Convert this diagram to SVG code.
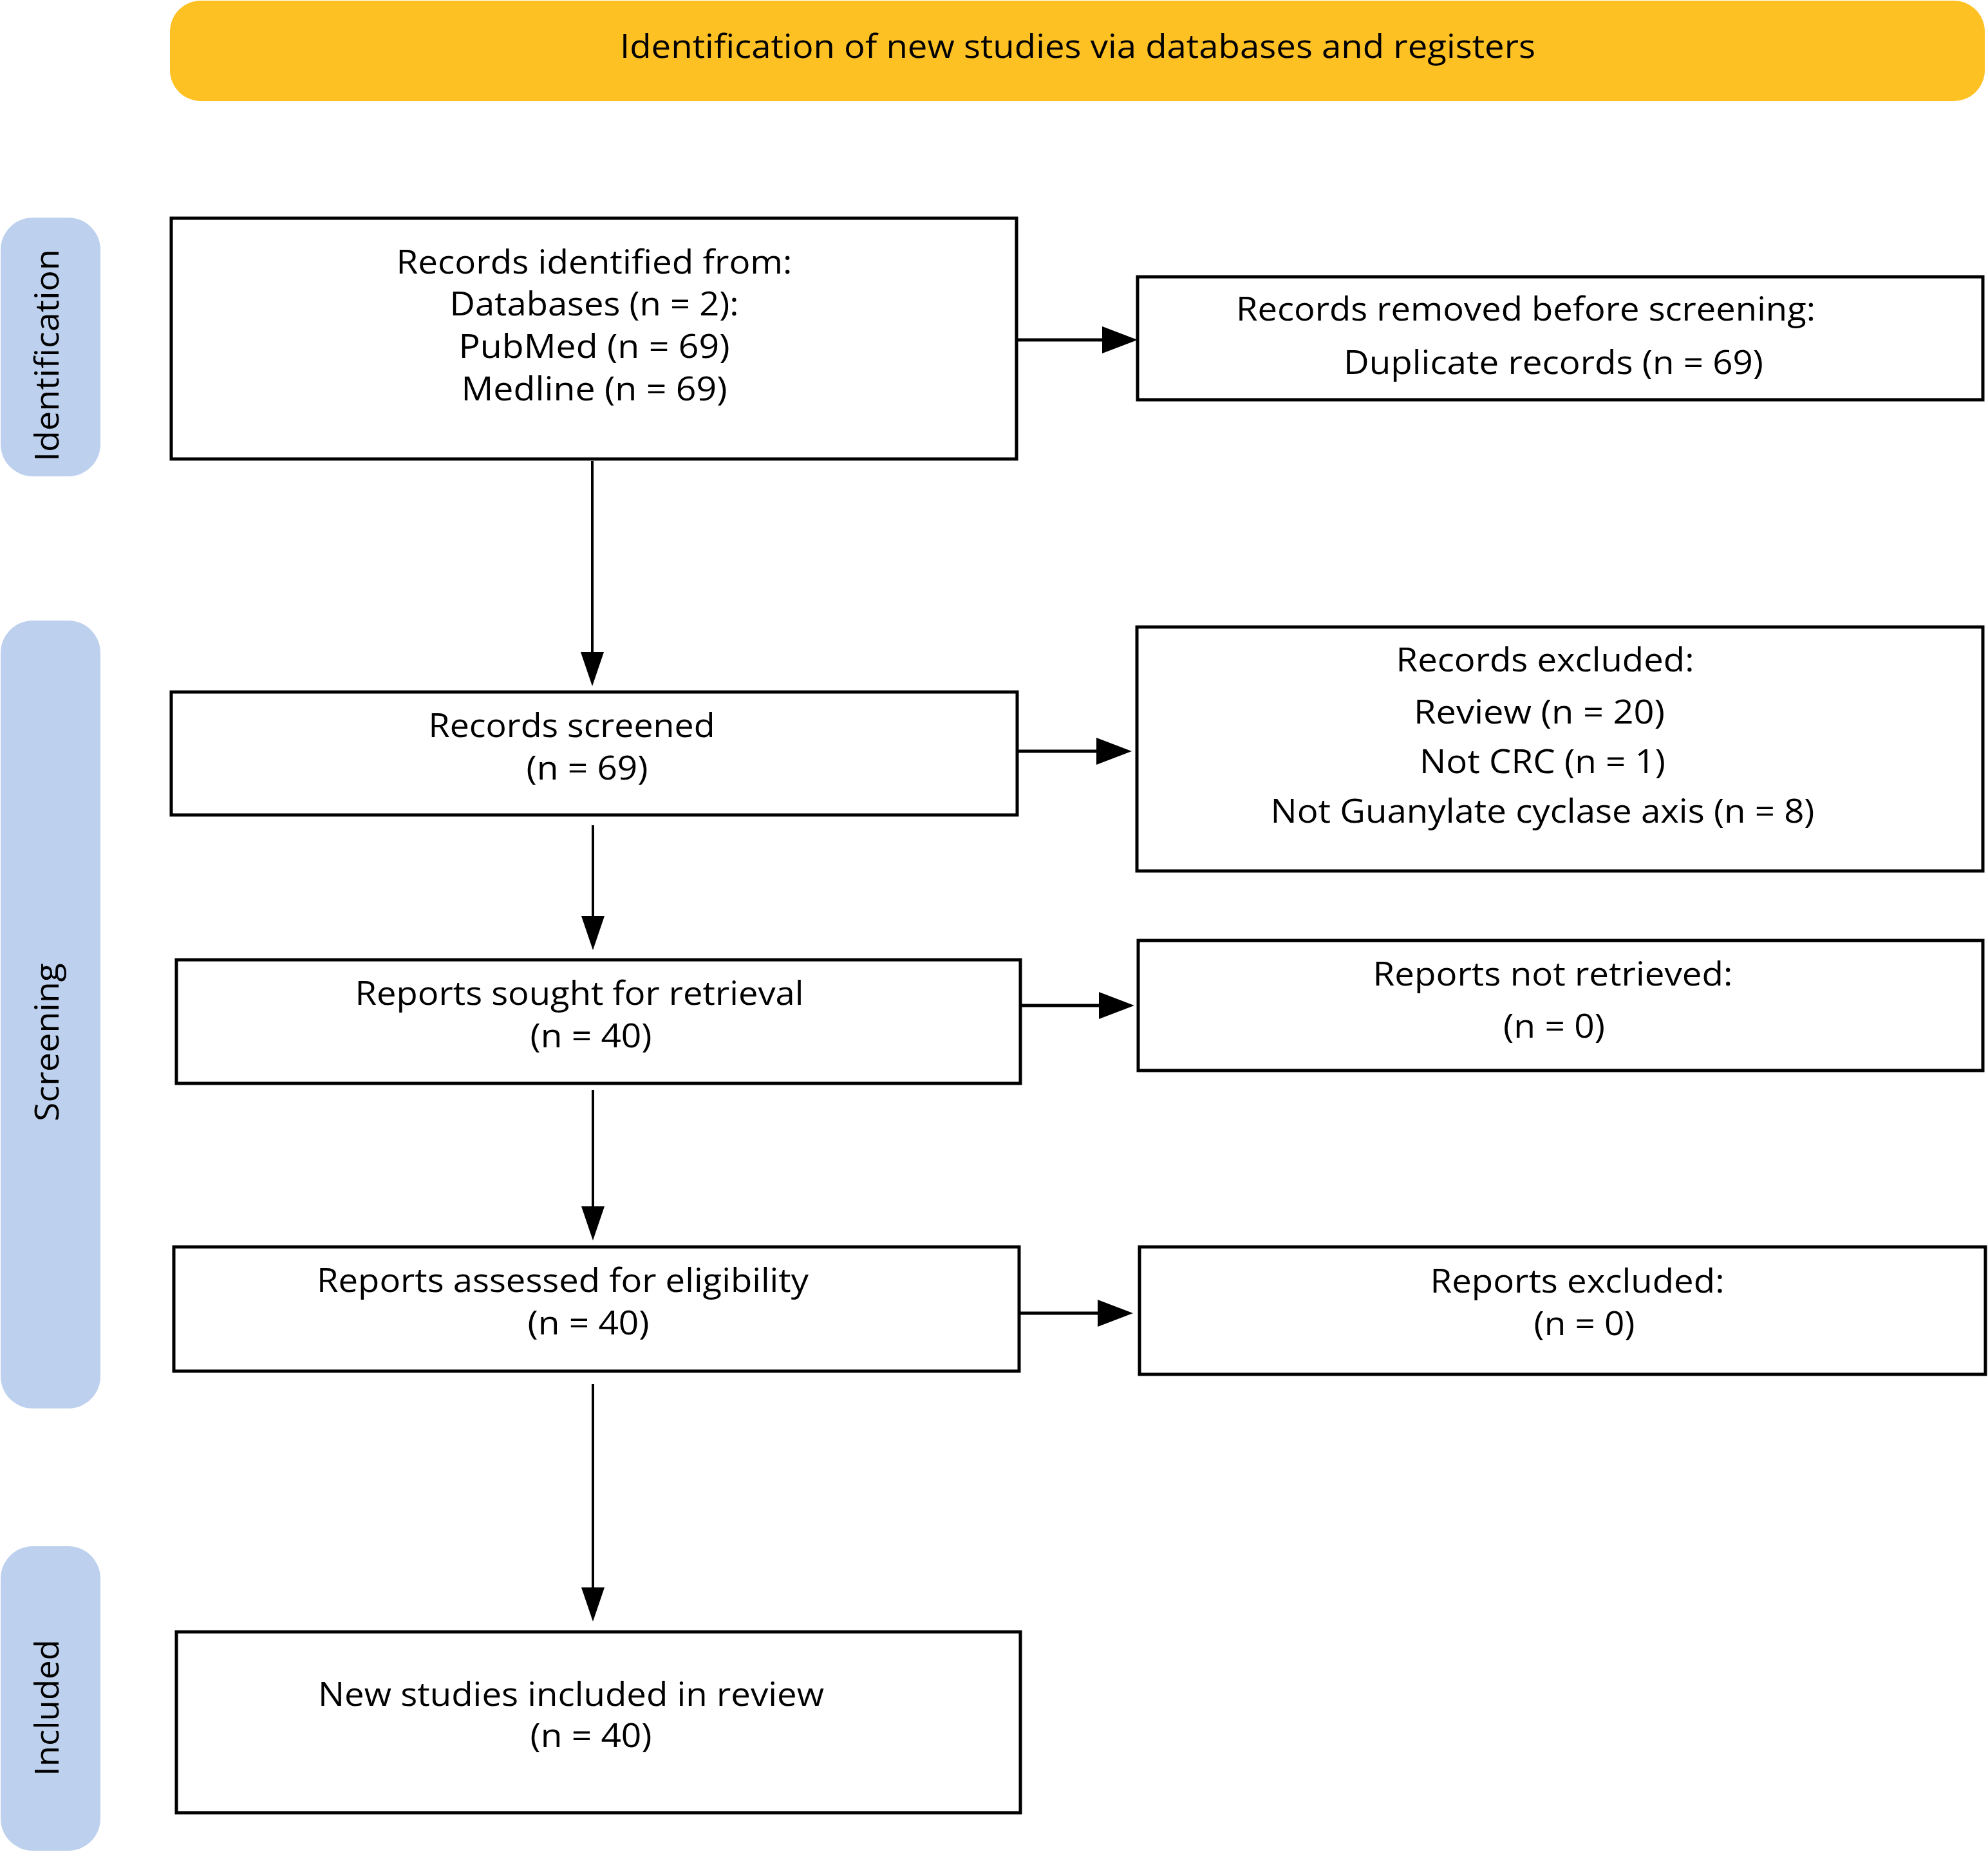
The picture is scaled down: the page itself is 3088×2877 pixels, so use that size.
<svg xmlns="http://www.w3.org/2000/svg" width="3088" height="2877" viewBox="0 0 3088 2877">
<style>
text{font-family:"Open Sans","Liberation Sans",sans-serif;font-size:52px;fill:#000;text-anchor:middle}
.box{fill:#fff;stroke:#000;stroke-width:5}
.phase{fill:#BDD1EE}
.banner{fill:#FEC124}
.h{stroke:#000;stroke-width:5;fill:none}
.v{stroke:#000;stroke-width:4;fill:none}
</style>
<defs>
<marker id="ah" markerUnits="userSpaceOnUse" markerWidth="55" markerHeight="42" viewBox="0 0 55 42" refX="0" refY="21" orient="auto"><path d="M0,0 L55,21 L0,42 Z" fill="#000"/></marker>
<marker id="av" markerUnits="userSpaceOnUse" markerWidth="53" markerHeight="36" viewBox="0 0 53 36" refX="0" refY="18" orient="auto"><path d="M0,0 L53,18 L0,36 Z" fill="#000"/></marker>
</defs>
<rect width="3088" height="2877" fill="#fff"/>
<g id="banner">
<rect class="banner" x="264" y="1" width="2819" height="156" rx="48"/>
<text x="1674" y="90" textLength="1422" lengthAdjust="spacingAndGlyphs">Identification of new studies via databases and registers</text>
</g>
<g id="phase-identification">
<rect class="phase" x="1" y="338" width="155" height="402" rx="50"/>
<text transform="translate(91,552) rotate(-90)" textLength="330" lengthAdjust="spacingAndGlyphs">Identification</text>
</g>
<g id="phase-screening">
<rect class="phase" x="1" y="964" width="155" height="1224" rx="50"/>
<text transform="translate(91,1619) rotate(-90)" textLength="246" lengthAdjust="spacingAndGlyphs">Screening</text>
</g>
<g id="phase-included">
<rect class="phase" x="1" y="2402" width="155" height="473" rx="50"/>
<text transform="translate(91,2653) rotate(-90)" textLength="212" lengthAdjust="spacingAndGlyphs">Included</text>
</g>
<g id="records-identified">
<rect class="box" x="266" y="339" width="1313" height="374"/>
<text x="923" y="425" textLength="615" lengthAdjust="spacingAndGlyphs">Records identified from:</text>
<text x="923" y="490" textLength="449" lengthAdjust="spacingAndGlyphs">Databases (n = 2):</text>
<text x="923" y="556" textLength="421" lengthAdjust="spacingAndGlyphs">PubMed (n = 69)</text>
<text x="923" y="622" textLength="413" lengthAdjust="spacingAndGlyphs">Medline (n = 69)</text>
</g>
<g id="records-removed">
<rect class="box" x="1767" y="430" width="1313" height="191"/>
<text x="2370" y="498" textLength="900" lengthAdjust="spacingAndGlyphs">Records removed before screening:</text>
<text x="2413" y="581" textLength="652" lengthAdjust="spacingAndGlyphs">Duplicate records (n = 69)</text>
</g>
<g id="records-screened">
<rect class="box" x="266" y="1075" width="1314" height="191"/>
<text x="888" y="1145" textLength="445" lengthAdjust="spacingAndGlyphs">Records screened</text>
<text x="912" y="1211" textLength="189" lengthAdjust="spacingAndGlyphs">(n = 69)</text>
</g>
<g id="records-excluded">
<rect class="box" x="1766" y="974" width="1314" height="379"/>
<text x="2400" y="1043" textLength="463" lengthAdjust="spacingAndGlyphs">Records excluded:</text>
<text x="2391" y="1124" textLength="390" lengthAdjust="spacingAndGlyphs">Review (n = 20)</text>
<text x="2396" y="1201" textLength="382" lengthAdjust="spacingAndGlyphs">Not CRC (n = 1)</text>
<text x="2396" y="1278" textLength="845" lengthAdjust="spacingAndGlyphs">Not Guanylate cyclase axis (n = 8)</text>
</g>
<g id="reports-sought">
<rect class="box" x="274" y="1491" width="1311" height="192"/>
<text x="900" y="1561" textLength="697" lengthAdjust="spacingAndGlyphs">Reports sought for retrieval</text>
<text x="918" y="1627" textLength="189" lengthAdjust="spacingAndGlyphs">(n = 40)</text>
</g>
<g id="reports-not-retrieved">
<rect class="box" x="1768" y="1461" width="1312" height="202"/>
<text x="2412" y="1531" textLength="559" lengthAdjust="spacingAndGlyphs">Reports not retrieved:</text>
<text x="2414" y="1612" textLength="158" lengthAdjust="spacingAndGlyphs">(n = 0)</text>
</g>
<g id="reports-assessed">
<rect class="box" x="270" y="1937" width="1313" height="193"/>
<text x="874" y="2007" textLength="764" lengthAdjust="spacingAndGlyphs">Reports assessed for eligibility</text>
<text x="914" y="2073" textLength="189" lengthAdjust="spacingAndGlyphs">(n = 40)</text>
</g>
<g id="reports-excluded">
<rect class="box" x="1770" y="1937" width="1314" height="198"/>
<text x="2450" y="2008" textLength="457" lengthAdjust="spacingAndGlyphs">Reports excluded:</text>
<text x="2461" y="2074" textLength="157" lengthAdjust="spacingAndGlyphs">(n = 0)</text>
</g>
<g id="studies-included">
<rect class="box" x="274" y="2535" width="1311" height="281"/>
<text x="887" y="2650" textLength="786" lengthAdjust="spacingAndGlyphs">New studies included in review</text>
<text x="918" y="2714" textLength="189" lengthAdjust="spacingAndGlyphs">(n = 40)</text>
</g>
<g id="connectors">
<line class="h" x1="1580" y1="528" x2="1712" y2="528" marker-end="url(#ah)"/>
<line class="h" x1="1580" y1="1167" x2="1703" y2="1167" marker-end="url(#ah)"/>
<line class="h" x1="1585" y1="1562" x2="1707" y2="1562" marker-end="url(#ah)"/>
<line class="h" x1="1585" y1="2040" x2="1705" y2="2040" marker-end="url(#ah)"/>
<line class="v" x1="920" y1="716" x2="920" y2="1013" marker-end="url(#av)"/>
<line class="v" x1="921" y1="1282" x2="921" y2="1423" marker-end="url(#av)"/>
<line class="v" x1="921" y1="1693" x2="921" y2="1874" marker-end="url(#av)"/>
<line class="v" x1="921" y1="2150" x2="921" y2="2466" marker-end="url(#av)"/>
</g>
</svg>
